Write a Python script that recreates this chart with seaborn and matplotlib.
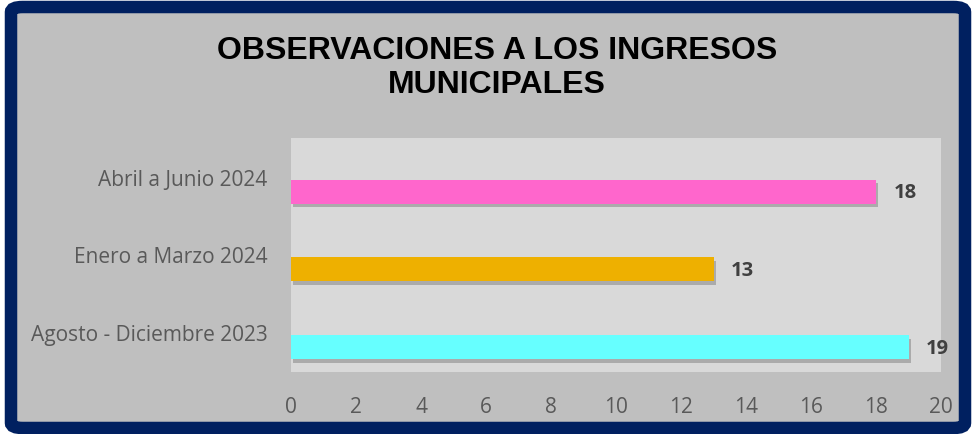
import numpy as np
import pandas as pd
import matplotlib
matplotlib.use("Agg")
import matplotlib.pyplot as plt
import matplotlib.patheffects as pe
from matplotlib.patches import FancyBboxPatch
import seaborn as sns

# Data
periodos = ["Abril a Junio 2024", "Enero a Marzo 2024", "Agosto - Diciembre 2023"]
observaciones = [18, 13, 19]
colores = ["#ff66cc", "#eeb000", "#66ffff"]

df = pd.DataFrame({"Periodo": periodos, "Observaciones": observaciones})

sns.set_theme(style="white")
plt.rcParams["font.family"] = ["Open Sans", "DejaVu Sans"]

fig = plt.figure(figsize=(9.76, 4.34), dpi=100)
fig.patch.set_facecolor("white")

# grey card with navy rounded border
card = FancyBboxPatch((11 / 976, 6 / 434), 954 / 976, 421 / 434,
                      boxstyle="round,pad=0,rounding_size=0.012",
                      transform=fig.transFigure, facecolor="#bfbfbf",
                      edgecolor="#002060", linewidth=9, zorder=-5)
fig.patches.append(card)

ax = fig.add_axes([291 / 976, 62 / 434, 650 / 976, 234 / 434])
ax.set_facecolor("#d9d9d9")

sns.barplot(data=df, y="Periodo", x="Observaciones", hue="Periodo",
            palette=colores, orient="h", width=0.31, legend=False,
            saturation=1, ax=ax)

shadow = [pe.SimplePatchShadow(offset=(1.5, -2.5), shadow_rgbFace="#666666", alpha=0.4), pe.Normal()]
for bar in ax.patches:
    bar.set_path_effects(shadow)
    bar.set_edgecolor("none")

for i, v in enumerate(observaciones):
    ax.annotate(str(v), xy=(v, i), xytext=(12.5, -1), textcoords="offset points",
                va="center", ha="left", fontsize=14.5, fontweight="bold", color="#404040")

ax.set_xlim(0, 20)
ax.set_ylim(2.32, -0.69)
ax.set_xticks(np.arange(0, 21, 2))
ax.set_yticks(np.arange(len(periodos)) - 0.18)
ax.set_yticklabels(periodos)
ax.tick_params(axis="x", colors="#595959", labelsize=15, length=0, pad=18)
ax.tick_params(axis="y", colors="#595959", labelsize=15, length=0, pad=17)
ax.set_xlabel("")
ax.set_ylabel("")
for s in ax.spines.values():
    s.set_visible(False)

fig.text(497 / 976, 1 - 68 / 434, "OBSERVACIONES A LOS INGRESOS\nMUNICIPALES",
         ha="center", va="center", fontsize=23, fontweight="bold",
         family=["Liberation Sans", "DejaVu Sans"], color="black", linespacing=1.15)

fig.savefig("out.png", dpi=100, facecolor=fig.get_facecolor())
